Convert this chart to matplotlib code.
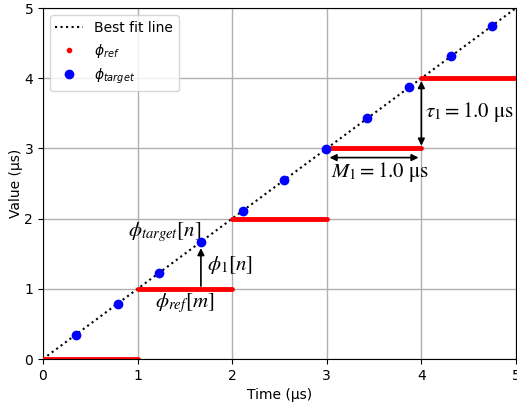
import matplotlib
matplotlib.use("Agg")
import matplotlib.pyplot as plt
from matplotlib.lines import Line2D

# Data
ref_starts = [0, 1, 2, 3, 4]
ref_values = [0, 1, 2, 3, 4]
ref_length = 1.0
target_times = [0.35, 0.79, 1.23, 1.67, 2.11, 2.55, 2.99, 3.43, 3.87, 4.31, 4.75]
target_values = [0.35, 0.79, 1.23, 1.67, 2.11, 2.55, 2.99, 3.43, 3.87, 4.31, 4.75]
fit_x = [0, 5]
fit_y = [0, 5]

fig = plt.figure(figsize=(5.17, 4.03), dpi=100)
ax = fig.add_axes([0.083, 0.109, 0.915, 0.871])

ax.plot(fit_x, fit_y, color='black', linestyle=':', linewidth=1.5, label='Best fit line')
for s, v in zip(ref_starts, ref_values):
    ax.plot([s, s + ref_length], [v, v], color='red', linewidth=3.5, solid_capstyle='round', zorder=3)
ax.plot(target_times, target_values, 'o', color='blue', markersize=6, zorder=4)

# legend uses the default (DejaVu) mathtext
handles = [
    Line2D([], [], color='black', linestyle=':', linewidth=1.5),
    Line2D([], [], color='red', marker='.', linestyle='none', markersize=6),
    Line2D([], [], color='blue', marker='o', linestyle='none', markersize=6),
]
labels = ['Best fit line', r'$\phi_{ref}$', r'$\phi_{target}$']
ax.legend(handles, labels, loc='upper left', fontsize=10)

ax.set_xlim(0, 5)
ax.set_ylim(0, 5)
ax.set_xticks([0, 1, 2, 3, 4, 5])
ax.set_yticks([0, 1, 2, 3, 4, 5])
ax.grid(True, color='#b0b0b0', linewidth=1)
ax.set_xlabel('Time (µs)')
ax.set_ylabel('Value (µs)', labelpad=1)

# annotations in a Times-like math font
plt.rcParams['mathtext.fontset'] = 'stix'
ax.text(1.29, 1.81, r'$\phi_{target}[n]$', ha='center', va='center', fontsize=15)
ax.text(1.98, 1.34, r'$\phi_1[n]$', ha='center', va='center', fontsize=15)
ax.text(1.5, 0.8, r'$\phi_{ref}[m]$', ha='center', va='center', fontsize=15)
ax.annotate('', xy=(1.67, 1.62), xytext=(1.67, 1.0),
            arrowprops=dict(arrowstyle='-|>', color='black', lw=1.2))
ax.annotate('', xy=(3.0, 2.87), xytext=(4.0, 2.87),
            arrowprops=dict(arrowstyle='<|-|>', color='black', lw=1.2))
ax.annotate('', xy=(4.0, 3.0), xytext=(4.0, 4.0),
            arrowprops=dict(arrowstyle='<|-|>', color='black', lw=1.2))
ax.text(3.56, 2.67, r'$M_1 = 1.0\ \mathrm{\mu s}$', ha='center', va='center', fontsize=15)
ax.text(4.51, 3.52, r'$\tau_1 = 1.0\ \mathrm{\mu s}$', ha='center', va='center', fontsize=15)

fig.savefig('out.png', dpi=100)
